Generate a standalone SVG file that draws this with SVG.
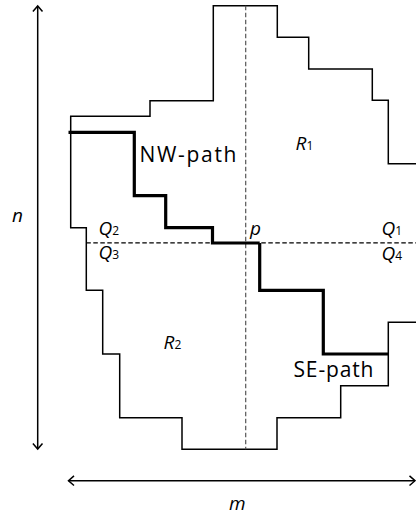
<svg xmlns="http://www.w3.org/2000/svg" width="416" height="517" viewBox="0 0 416 517">
<style>
.thin{fill:none;stroke:#000;stroke-width:1.5}
.thick{fill:none;stroke:#000;stroke-width:3.2}
.dash{fill:none;stroke:#000;stroke-width:1.2;stroke-dasharray:4.5 2.5}
.dashg{fill:none;stroke:#555;stroke-width:1.2;stroke-dasharray:4.5 2.5}
.lbl{font-family:"Open Sans","Liberation Sans",sans-serif;font-size:21px;fill:#000}
.var{font-family:"Open Sans","Liberation Sans",sans-serif;font-size:19px;font-style:italic;fill:#000}
.sub{font-size:12px;font-style:normal}
</style>
<defs>
<marker id="chev" markerUnits="userSpaceOnUse" markerWidth="12" markerHeight="12" viewBox="-6 -6 12 12" refX="0" refY="0" orient="auto-start-reverse">
<path d="M -5.5 -4.8 L 0 0 L -5.5 4.8" fill="none" stroke="#000" stroke-width="1.5"/>
</marker>
</defs>
<g id="axes">
<line x1="37.7" y1="6" x2="37.7" y2="449" class="thin" marker-start="url(#chev)" marker-end="url(#chev)"/>
<line x1="68.5" y1="480.7" x2="415" y2="480.7" class="thin" marker-start="url(#chev)" marker-end="url(#chev)"/>
</g>
<g id="region">
<path class="thin" d="M 416 163.7 H 388.3 V 100.3 H 372.3 V 69 H 308.7 V 37.3 H 277.3 V 5.7 H 213.3 V 100.7 H 150 V 116.3 H 70.7 V 227.7 H 86.3 V 290.3 H 102.7 V 354 H 119.7 V 417.7 H 182 V 449.3 H 277 V 417.7 H 340.7 V 385.7 H 388.3 V 322.3 H 416"/>
</g>
<g id="dividers">
<line x1="245.7" y1="5.7" x2="245.7" y2="449.3" class="dashg"/>
<line x1="86.3" y1="242.8" x2="416" y2="242.8" class="dash"/>
</g>
<g id="nw-path">
<path class="thick" d="M 68.5 132.3 H 134.3 V 195.7 H 165.7 V 227.7 H 212.5 V 243 H 259.7"/>
</g>
<g id="se-path">
<path class="thick" d="M 259.7 243 V 290.3 H 323.3 V 354 H 388.3"/>
</g>
<g id="labels">
<text class="lbl" x="139.5" y="161.7" textLength="97" lengthAdjust="spacing">NW-path</text>
<text class="lbl" x="293.5" y="376.7" textLength="80" lengthAdjust="spacing">SE-path</text>
<text class="var" x="295.5" y="149.5">R<tspan class="sub">1</tspan></text>
<text class="var" x="163.5" y="348.5">R<tspan class="sub">2</tspan></text>
<text class="var" x="98.5" y="234.5">Q<tspan class="sub">2</tspan></text>
<text class="var" x="98.5" y="259">Q<tspan class="sub">3</tspan></text>
<text class="var" x="381.5" y="234.5">Q<tspan class="sub">1</tspan></text>
<text class="var" x="381.5" y="259.5">Q<tspan class="sub">4</tspan></text>
<text class="var" x="250" y="235">p</text>
<text class="var" x="12" y="222">n</text>
<text class="var" x="229" y="510">m</text>
</g>
</svg>
